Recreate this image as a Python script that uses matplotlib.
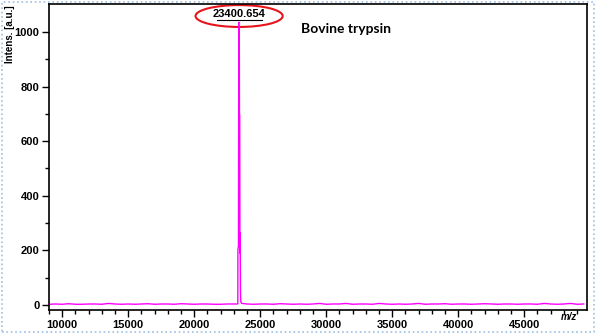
import numpy as np
import matplotlib.pyplot as plt
from matplotlib.patches import Ellipse, Rectangle

# baseline before the peak, every 500 m/z from 9000 to 23000
base_left_mz = np.arange(9000, 23001, 500)
base_left_int = [3, 4, 3, 5, 3, 3, 4, 4, 3, 6, 4, 3, 4, 3, 4,
                 5, 3, 4, 4, 3, 5, 4, 3, 4, 4, 3, 3, 4, 4]

# peak of bovine trypsin
peak_mz = [23250, 23300, 23310, 23330, 23350, 23375, 23395, 23400, 23415,
           23425, 23445, 23460, 23470, 23480, 23490, 23500, 23515, 23540, 23600]
peak_int = [4, 5, 205, 210, 215, 1030, 1035, 960, 955,
            700, 695, 250, 190, 265, 185, 60, 20, 10, 6]

# baseline after the peak, every 500 m/z from 24000 to 49500
base_right_mz = np.arange(24000, 49501, 500)
base_right_int = [4, 3, 4, 4, 3, 5, 4, 3, 4, 3, 4, 6, 3, 4, 4, 6, 3, 4, 4, 3,
                  6, 4, 3, 4, 3, 4, 6, 3, 4, 4, 5, 3, 4, 4, 3, 4, 5, 4, 3, 4,
                  4, 3, 4, 4, 3, 6, 4, 3, 4, 6, 3, 4]

mz = np.concatenate([base_left_mz, peak_mz, base_right_mz])
intens = np.concatenate([base_left_int, peak_int, base_right_int])

peak_label = "23400.654"
peak_pos = 23400

plt.rcParams['font.family'] = ['Liberation Sans', 'DejaVu Sans']

fig = plt.figure(figsize=(5.97, 3.36), dpi=100)
ax = fig.add_axes([49 / 597, 1 - 310 / 336, 538 / 597, 306 / 336])

ax.plot(mz, intens, color='#ff00ff', lw=1)

ax.set_xlim(9000, 49750)
ax.set_ylim(-18, 1102)
ax.set_xticks(range(10000, 49000, 5000))
ax.set_xticks(range(9000, 50000, 1000), minor=True)
ax.set_yticks(range(0, 1001, 200))
ax.set_yticks(range(100, 1100, 200), minor=True)
ax.tick_params(which='major', length=5, width=1, labelsize=8, pad=2)
ax.tick_params(which='minor', length=3, width=1)
for lab in ax.get_xticklabels() + ax.get_yticklabels():
    lab.set_fontweight('bold')
for s in ax.spines.values():
    s.set_linewidth(1.2)

# peak label with red ellipse
ax.plot([peak_pos, peak_pos], [1025, 1035], color='gray', lw=0.8)
ax.text(peak_pos, 1064, peak_label, ha='center', va='center',
        fontsize=8, fontweight='bold')
ax.plot([peak_pos - 1700, peak_pos + 1700], [1042, 1042], color='black', lw=0.8)
ax.add_patch(Ellipse((peak_pos, 1058), 6600, 80, fill=False,
                     edgecolor='#e8141c', lw=1.5, clip_on=False))
ax.text(28050, 1012, "Bovine trypsin", fontsize=10, fontweight='bold',
        family=['Lato', 'DejaVu Sans'], va='center')

fig.text(10 / 597, 1 - 5 / 336, "Intens. [a.u.]", rotation=90, ha='center',
         va='top', fontsize=7, fontweight='bold')
fig.text(569 / 597, 1 - 317 / 336, "m/z", ha='center', va='center',
         fontsize=7, fontstyle='italic', fontweight='bold')

# light blue dotted frame around the picture
fig.patches.append(Rectangle((2 / 597, 4 / 336), 592 / 597, 330 / 336,
                             transform=fig.transFigure, fill=False,
                             edgecolor='#9dbfe4', lw=1.2, ls=':'))

fig.savefig('out.png', dpi=100)
